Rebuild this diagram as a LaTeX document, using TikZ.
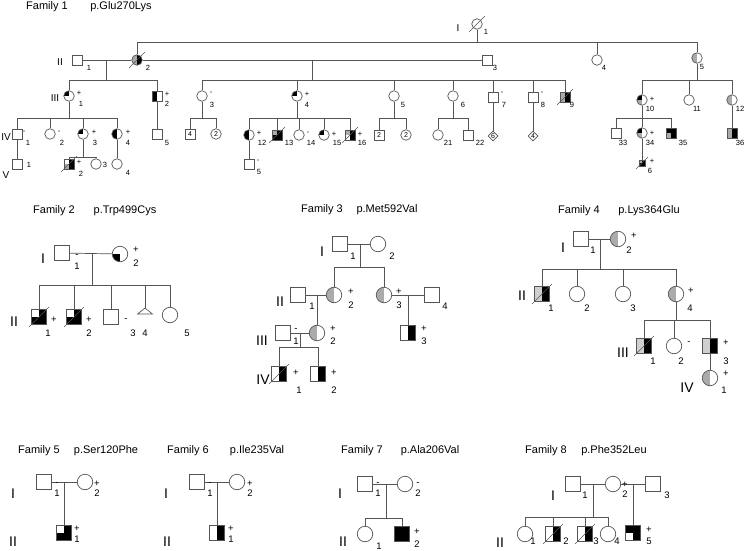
\documentclass[tikz,border=0pt]{standalone}
\usepackage{fontspec}
\setmainfont{Liberation Sans}
\usetikzlibrary{calc,shapes.geometric}
\definecolor{gA}{HTML}{ABABAB}
\definecolor{gB}{HTML}{CFCFCF}
\definecolor{ln}{HTML}{555555}
\tikzset{
  base/.style={draw=ln, line width=0.7pt, inner sep=0pt, fill=white},
  sqA/.style={base, rectangle, minimum size=10pt},
  ciA/.style={base, circle, minimum size=10.5pt},
  sqB/.style={base, rectangle, minimum size=15pt},
  ciB/.style={base, circle, minimum size=15.5pt},
  dmA/.style={base, diamond, minimum size=10pt},
  numin/.style={font=\fontsize{7}{7}\selectfont},
  q/.style n args={4}{path picture={
    \fill[#1] (path picture bounding box.center) rectangle (path picture bounding box.north west);
    \fill[#2] (path picture bounding box.center) rectangle (path picture bounding box.north east);
    \fill[#3] (path picture bounding box.center) rectangle (path picture bounding box.south west);
    \fill[#4] (path picture bounding box.center) rectangle (path picture bounding box.south east);}},
  lbA/.style={font=\fontsize{7.5}{8}\selectfont, inner sep=0pt},
  lbB/.style={font=\fontsize{9.5}{10}\selectfont, inner sep=0pt},
  genA/.style={font=\fontsize{10}{11}\selectfont, inner sep=0pt},
  genB/.style={font=\fontsize{14}{15}\selectfont, inner sep=0pt},
  ttl/.style={font=\fontsize{11}{12}\selectfont, inner sep=0pt},
  conn/.style={draw=ln, line width=0.7pt},
  dsl/.style={draw=ln, line width=0.5pt},
}
\newcommand\dcd[2]{\draw[dsl] ($(#1.center)+(-#2,#2)$) -- ($(#1.center)+(#2,-#2)$);}
\newcommand\sib[5]{\draw[conn] (#1) -- (#2); \draw[conn] (#2 -| #3) -- (#2 -| #4);
  \foreach \c in {#5}{\draw[conn] (#2 -| \c) -- (\c);}}
\begin{document}
\begin{tikzpicture}[x=1pt,y=-1pt]
\useasboundingbox (0,0) rectangle (747,551);

%%%%%%%%%%%%%%%% Family 1
\node[ttl] (t1a) at (47,7) {Family 1};
\node[ttl] (t1b) at (121,7) {p.Glu270Lys};
\node[genA] (f1gI) at (458,28) {I};
\node[genA] (f1gII) at (60,62) {II};
\node[genA] (f1gIII) at (55,98) {III};
\node[genA] (f1gIV) at (6,137) {IV};
\node[genA] (f1gV) at (6,175) {V};

\node[ciA] (f1i1) at (477,24) {};
\node[sqA] (f1ii1) at (77,60) {};
\node[ciA,q={gA}{black}{gA}{black}] (f1ii2) at (137,60) {};
\node[sqA] (f1ii3) at (487,60) {};
\node[ciA] (f1ii4) at (597,60) {};
\node[ciA,q={gA}{white}{gA}{white}] (f1ii5) at (697,58) {};

\node[ciA,q={black}{white}{white}{white}] (f1iii1) at (69,96) {};
\node[sqA,q={black}{white}{black}{white}] (f1iii2) at (157,96) {};
\node[ciA] (f1iii3) at (202,96) {};
\node[ciA,q={black}{white}{white}{white}] (f1iii4) at (297,96) {};
\node[ciA] (f1iii5) at (394,96) {};
\node[ciA] (f1iii6) at (453,96) {};
\node[sqA] (f1iii7) at (493,97) {};
\node[sqA] (f1iii8) at (533,97) {};
\node[sqA,q={gA}{black}{gA}{black}] (f1iii9) at (565,97) {};
\node[ciA,q={black}{white}{gA}{white}] (f1iii10) at (642,100) {};
\node[ciA] (f1iii11) at (689,100) {};
\node[ciA,q={gA}{white}{gA}{white}] (f1iii12) at (732,100) {};

\node[sqA] (f1iv1) at (17,134) {};
\node[ciA] (f1iv2) at (50,134) {};
\node[ciA,q={black}{white}{white}{white}] (f1iv3) at (83,134) {};
\node[ciA,q={black}{white}{black}{white}] (f1iv4) at (117,134) {};
\node[sqA] (f1iv5) at (157,134) {};
\node[sqA,numin] (f1g4a) at (190,134) {4};
\node[ciA,numin] (f1g2a) at (216,134) {2};
\node[ciA,q={black}{white}{black}{white}] (f1iv12) at (249,135) {};
\node[sqA,q={gA}{black}{black}{black}] (f1iv13) at (277,135) {};
\node[ciA] (f1iv14) at (299,135) {};
\node[ciA,q={black}{white}{white}{white}] (f1iv15) at (324,135) {};
\node[sqA,q={gA}{black}{white}{black}] (f1iv16) at (350,135) {};
\node[sqA,numin] (f1g2b) at (379,135) {2};
\node[ciA,numin] (f1g2c) at (406,135) {2};
\node[ciA] (f1iv21) at (438,135) {};
\node[sqA] (f1iv22) at (468,135) {};
\node[dmA,numin] (f1g6) at (493,136) {6};
\node[dmA,numin] (f1g4b) at (533,136) {4};
\node[sqA] (f1iv33) at (616,133) {};
\node[ciA,q={black}{white}{gA}{white}] (f1iv34) at (642,133) {};
\node[sqA,q={black}{black}{gA}{black}] (f1iv35) at (671,133) {};
\node[sqA,q={gA}{black}{gA}{black}] (f1iv36) at (732,133) {};

\node[sqA] (f1v1) at (17,164) {};
\node[sqA,q={white}{black}{gA}{black}] (f1v2) at (69,164) {};
\node[ciA] (f1v3) at (96,164) {};
\node[ciA] (f1v4) at (117,164) {};
\node[sqA] (f1v5) at (249,164) {};
\node[base,rectangle,minimum size=6pt,q={gA}{black}{black}{black}] (f1v6) at (642,163) {};

\draw[conn] (f1ii1) -- (f1ii2);
\draw[conn] (f1ii2) -- (f1ii3);
\coordinate (f1s0) at (477,42);
\sib{f1i1}{f1s0}{f1ii2}{f1ii5}{f1ii2,f1ii4,f1ii5}
\coordinate (f1j1) at (106,60); \coordinate (f1s1) at (106,80);
\sib{f1j1}{f1s1}{f1iii1}{f1iii2}{f1iii1,f1iii2}
\coordinate (f1j2) at (312,60); \coordinate (f1s2) at (312,80);
\sib{f1j2}{f1s2}{f1iii3}{f1iii9}{f1iii3,f1iii4,f1iii5,f1iii6,f1iii7,f1iii8,f1iii9}
\coordinate (f1s3) at (697,80);
\sib{f1ii5}{f1s3}{f1iii10}{f1iii12}{f1iii10,f1iii11,f1iii12}
\coordinate (f1s4) at (69,118);
\sib{f1iii1}{f1s4}{f1iv1}{f1iv4}{f1iv1,f1iv2,f1iv3,f1iv4}
\draw[conn] (f1iii2) -- (f1iv5);
\coordinate (f1s5) at (202,118);
\sib{f1iii3}{f1s5}{f1g4a}{f1g2a}{f1g4a,f1g2a}
\coordinate (f1s6) at (297,118);
\sib{f1iii4}{f1s6}{f1iv12}{f1iv16}{f1iv12,f1iv13,f1iv14,f1iv15,f1iv16}
\coordinate (f1s7) at (394,118);
\sib{f1iii5}{f1s7}{f1g2b}{f1g2c}{f1g2b,f1g2c}
\coordinate (f1s8) at (453,118);
\sib{f1iii6}{f1s8}{f1iv21}{f1iv22}{f1iv21,f1iv22}
\draw[conn] (f1iii7) -- (f1g6);
\draw[conn] (f1iii8) -- (f1g4b);
\coordinate (f1s9) at (642,118);
\sib{f1iii10}{f1s9}{f1iv33}{f1iv35}{f1iv33,f1iv34,f1iv35}
\draw[conn] (f1iii12) -- (f1iv36);
\draw[conn] (f1iv1) -- (f1v1);
\coordinate (f1s10) at (83,157);
\sib{f1iv3}{f1s10}{f1v2}{f1v3}{f1v2,f1v3}
\draw[conn] (f1iv4) -- (f1v4);
\draw[conn] (f1iv12) -- (f1v5);
\draw[conn] (f1iv34) -- (f1v6);

\dcd{f1i1}{8} \dcd{f1ii2}{8} \dcd{f1iii9}{8} \dcd{f1iv13}{8} \dcd{f1iv16}{8} \dcd{f1v2}{8} \dcd{f1v6}{6}

\foreach \x/\y/\t [count=\i] in {486/32/1, 89/68/1, 148/68/2, 495/68/3, 604/68/4, 702/67/5,
  79/93/+, 81/104/1, 167/94/+, 167/104/2, 211/93/-, 212/105/3, 307/94/+, 307/105/4,
  403/105/5, 463/105/6, 502/93/-, 504/105/7, 542/93/-, 543/105/8, 572/105/9,
  652/99/+, 650/109/10, 697/109/11, 740/109/12,
  24/132/-, 28/143/1, 59/132/-, 62/143/2, 94/132/+, 95/143/3, 128/132/+, 128/143/4, 167/143/5,
  259/133/+, 262/143/12, 289/143/13, 308/133/-, 311/143/14, 334/134/+, 337/143/15, 360/134/+, 362/143/16,
  448/143/21, 480/143/22, 623/143/33, 652/133/+, 650/143/34, 683/143/35, 740/143/36,
  29/165/1, 79/162/+, 81/174/2, 105/165/3, 128/173/4, 258/161/-, 259/172/5, 652/161/+, 650/171/6}
  \node[lbA] (l1-\i) at (\x,\y) {\t};

%%%%%%%%%%%%%%%% Family 2
\node[ttl] (t2a) at (54,211) {Family 2};
\node[ttl] (t2b) at (125,211) {p.Trp499Cys};
\node[genB] (f2gI) at (43,259) {I};
\node[genB] (f2gII) at (14,322) {II};
\node[sqB] (f2i1) at (62,253) {};
\node[ciB,q={white}{white}{black}{white}] (f2i2) at (120,254) {};
\node[sqB,q={white}{black}{black}{black}] (f2ii1) at (39,317) {};
\node[sqB,q={white}{black}{black}{black}] (f2ii2) at (74,317) {};
\node[sqB] (f2ii3) at (111,317) {};
\coordinate (f2ii4) at (145,308);
\draw[base] (137.5,314) -- (f2ii4) -- (152.5,314) -- cycle;
\node[ciB] (f2ii5) at (170,315) {};
\draw[conn] (f2i1) -- (f2i2);
\coordinate (f2j1) at (92,254); \coordinate (f2s1) at (92,285);
\sib{f2j1}{f2s1}{f2ii1}{f2ii5}{f2ii1,f2ii2,f2ii3,f2ii4,f2ii5}
\dcd{f2ii1}{10} \dcd{f2ii2}{10}
\foreach \x/\y/\t [count=\i] in {77/256/-, 77/266/1, 136/250/+, 136/263/2, 54/320/+, 48/333/1,
  89/320/+, 89/333/2, 126/320/-, 133/333/3, 145/333/4, 187/333/5}
  \node[lbB] (l2-\i) at (\x,\y) {\t};

%%%%%%%%%%%%%%%% Family 3
\node[ttl] (t3a) at (322,210) {Family 3};
\node[ttl] (t3b) at (387,210) {p.Met592Val};
\node[genB] (f3gI) at (322,252) {I};
\node[genB] (f3gII) at (280,302) {II};
\node[genB] (f3gIII) at (262,341) {III};
\node[genB] (f3gIV) at (263,380) {IV};
\node[sqB] (f3i1) at (340,244) {};
\node[ciB] (f3i2) at (378,244) {};
\node[sqB] (f3ii1) at (298,295) {};
\node[ciB,q={gA}{white}{gA}{white}] (f3ii2) at (334,295) {};
\node[ciB,q={gA}{white}{gA}{white}] (f3ii3) at (384,295) {};
\node[sqB] (f3ii4) at (432,295) {};
\node[sqB] (f3iii1) at (283,333) {};
\node[ciB,q={gA}{white}{gA}{white}] (f3iii2) at (317,333) {};
\node[sqB,q={white}{black}{white}{black}] (f3iii3) at (408,333) {};
\node[sqB,q={white}{black}{white}{black}] (f3iv1) at (279,374) {};
\node[sqB,q={white}{black}{white}{black}] (f3iv2) at (318,374) {};
\draw[conn] (f3i1) -- (f3i2);
\coordinate (f3j1) at (360,244); \coordinate (f3s1) at (360,267);
\sib{f3j1}{f3s1}{f3ii2}{f3ii3}{f3ii2,f3ii3}
\draw[conn] (f3ii1) -- (f3ii2);
\coordinate (f3j2) at (317,295);
\draw[conn] (f3j2) -- (f3iii2);
\draw[conn] (f3ii3) -- (f3ii4);
\coordinate (f3j3) at (408,295);
\draw[conn] (f3j3) -- (f3iii3);
\draw[conn] (f3iii1) -- (f3iii2);
\coordinate (f3j4) at (300,333); \coordinate (f3s4) at (300,347);
\sib{f3j4}{f3s4}{f3iv1}{f3iv2}{f3iv1,f3iv2}
\dcd{f3iv1}{10}
\foreach \x/\y/\t [count=\i] in {353/256/1, 392/256/2, 312/306/1, 351/292/+, 351/305/2, 399/292/+, 399/305/3,
  445/306/4, 296/330/-, 296/341/1, 333/329/+, 333/341/2, 424/329/+, 424/341/3, 296/373/+, 299/390/1,
  334/373/+, 334/390/2}
  \node[lbB] (l3-\i) at (\x,\y) {\t};

%%%%%%%%%%%%%%%% Family 4
\node[ttl] (t4a) at (579,211) {Family 4};
\node[ttl] (t4b) at (649,211) {p.Lys364Glu};
\node[genB] (f4gI) at (563,248) {I};
\node[genB] (f4gII) at (522,296) {II};
\node[genB] (f4gIII) at (623,353) {III};
\node[genB] (f4gIV) at (687,388) {IV};
\node[sqB] (f4i1) at (581,239) {};
\node[ciB,q={gA}{white}{gA}{white}] (f4i2) at (618,239) {};
\node[sqB,q={gB}{black}{gB}{black}] (f4ii1) at (542,294) {};
\node[ciB] (f4ii2) at (577,294) {};
\node[ciB] (f4ii3) at (623,294) {};
\node[ciB,q={gA}{white}{gA}{white}] (f4ii4) at (676,294) {};
\node[sqB,q={gB}{black}{gB}{black}] (f4iii1) at (644,346) {};
\node[ciB] (f4iii2) at (674,346) {};
\node[sqB,q={gB}{black}{gB}{black}] (f4iii3) at (710,346) {};
\node[ciB,q={gA}{white}{gA}{white}] (f4iv1) at (710,378) {};
\draw[conn] (f4i1) -- (f4i2);
\coordinate (f4j1) at (600,239); \coordinate (f4s1) at (600,269);
\sib{f4j1}{f4s1}{f4ii1}{f4ii4}{f4ii1,f4ii2,f4ii3,f4ii4}
\coordinate (f4s2) at (676,320);
\sib{f4ii4}{f4s2}{f4iii1}{f4iii3}{f4iii1,f4iii2,f4iii3}
\draw[conn] (f4iii3) -- (f4iv1);
\dcd{f4ii1}{10} \dcd{f4iii1}{10}
\foreach \x/\y/\t [count=\i] in {593/250/1, 634/236/+, 629/250/2, 551/308/1, 587/308/2, 633/308/3,
  691/291/+, 690/308/4, 653/361/1, 689/343/-, 681/361/2, 726/343/+, 726/361/3, 726/374/+, 724/390/1}
  \node[lbB] (l4-\i) at (\x,\y) {\t};

%%%%%%%%%%%%%%%% Family 5
\node[ttl] (t5a) at (39,451) {Family 5};
\node[ttl] (t5b) at (106,451) {p.Ser120Phe};
\node[genB] (f5gI) at (13,494) {I};
\node[genB] (f5gII) at (13,542) {II};
\node[sqB] (f5i1) at (44,482) {};
\node[ciB] (f5i2) at (85,482) {};
\node[sqB,q={white}{black}{black}{black}] (f5ii1) at (64,533) {};
\draw[conn] (f5i1) -- (f5i2);
\coordinate (f5j1) at (64,482);
\draw[conn] (f5j1) -- (f5ii1);
\foreach \x/\y/\t [count=\i] in {57/484/-, 57/493/1, 97/484/+, 97/493/2, 77/529/+, 77/539/1}
  \node[lbB] (l5-\i) at (\x,\y) {\t};

%%%%%%%%%%%%%%%% Family 6
\node[ttl] (t6a) at (188,451) {Family 6};
\node[ttl] (t6b) at (257,451) {p.Ile235Val};
\node[genB] (f6gI) at (166,494) {I};
\node[genB] (f6gII) at (167,542) {II};
\node[sqB] (f6i1) at (197,482) {};
\node[ciB] (f6i2) at (237,482) {};
\node[sqB,q={white}{black}{white}{black}] (f6ii1) at (217,533) {};
\draw[conn] (f6i1) -- (f6i2);
\coordinate (f6j1) at (217,482);
\draw[conn] (f6j1) -- (f6ii1);
\foreach \x/\y/\t [count=\i] in {210/484/-, 210/493/1, 250/484/+, 250/493/2, 231/529/+, 231/539/1}
  \node[lbB] (l6-\i) at (\x,\y) {\t};

%%%%%%%%%%%%%%%% Family 7
\node[ttl] (t7a) at (362,451) {Family 7};
\node[ttl] (t7b) at (430,451) {p.Ala206Val};
\node[genB] (f7gI) at (340,494) {I};
\node[genB] (f7gII) at (343,542) {II};
\node[sqB] (f7i1) at (365,484) {};
\node[ciB] (f7i2) at (405,484) {};
\node[ciB] (f7ii1) at (365,534) {};
\node[sqB,fill=black] (f7ii2) at (402,534) {};
\draw[conn] (f7i1) -- (f7i2);
\coordinate (f7j1) at (386,484); \coordinate (f7s1) at (386,518);
\sib{f7j1}{f7s1}{f7ii1}{f7ii2}{f7ii1,f7ii2}
\foreach \x/\y/\t [count=\i] in {378/484/-, 378/493/1, 418/484/-, 418/493/2, 379/546/1, 417/532/+, 417/544/2}
  \node[lbB] (l7-\i) at (\x,\y) {\t};

%%%%%%%%%%%%%%%% Family 8
\node[ttl] (t8a) at (546,451) {Family 8};
\node[ttl] (t8b) at (614,451) {p.Phe352Leu};
\node[genB] (f8gI) at (553,496) {I};
\node[genB] (f8gII) at (500,543) {II};
\node[sqB] (f8i1) at (573,484) {};
\node[ciB] (f8i2) at (613,484) {};
\node[sqB] (f8i3) at (653,484) {};
\node[ciB] (f8ii1) at (525,534) {};
\node[sqB,q={white}{black}{white}{black}] (f8ii2) at (553,534) {};
\node[sqB,q={white}{black}{white}{black}] (f8ii3) at (585,534) {};
\node[ciB] (f8ii4) at (608,534) {};
\node[sqB,q={black}{black}{white}{black}] (f8ii5) at (633,533) {};
\draw[conn] (f8i1) -- (f8i2);
\draw[conn] (f8i2) -- (f8i3);
\coordinate (f8j1) at (593,484); \coordinate (f8s1) at (593,517);
\sib{f8j1}{f8s1}{f8ii1}{f8ii4}{f8ii1,f8ii2,f8ii3,f8ii4}
\coordinate (f8j2) at (633,484);
\draw[conn] (f8j2) -- (f8ii5);
\dcd{f8ii2}{10} \dcd{f8ii3}{10}
\foreach \x/\y/\t [count=\i] in {585/495/1, 625/485/+, 625/494/2, 667/495/3, 533/541/1, 566/541/2,
  596/541/3, 617/541/4, 649/530/+, 649/541/5}
  \node[lbB] (l8-\i) at (\x,\y) {\t};
\end{tikzpicture}
\end{document}
